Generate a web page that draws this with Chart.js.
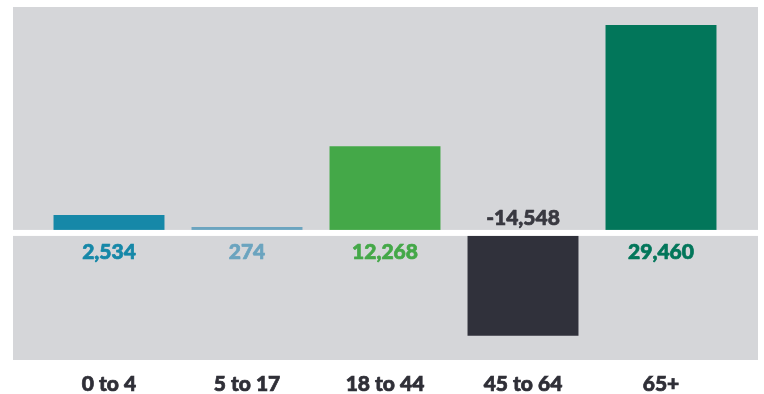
<!DOCTYPE html>
<html lang="en">
<head>
    <meta charset="UTF-8">
    <title>Change by age group</title>
    <style>
        body {
            margin: 0;
            background-color: #fff;
        }
        .wrap {
            width: 764px;
            height: 394px;
        }
    </style>
</head>
<body>
    <div class="wrap">
        <canvas id="ageChart" width="764" height="394"></canvas>
    </div>

    <script src="https://cdn.jsdelivr.net/npm/chart.js"></script>
    <script>
        // data
        const ageGroups = ['0 to 4', '5 to 17', '18 to 44', '45 to 64', '65+'];
        const changeValues = [2534, 274, 12268, -14548, 29460];
        const barColors = ['#1688a8', '#6ba4bf', '#44a848', '#30313b', '#02765a'];
        const labelColors = ['#1688a8', '#6ba4bf', '#44a848', '#393941', '#02765a'];

        const fontName = 'Lato, "Noto Sans", sans-serif';

        // gray panel behind the bars (a bit wider than the bar area)
        const panelPlugin = {
            id: 'panel',
            beforeDraw(chart) {
                const { ctx, chartArea } = chart;
                ctx.save();
                ctx.fillStyle = '#d5d6d9';
                ctx.fillRect(chartArea.left - 27, chartArea.top, chartArea.width + 55, chartArea.height);
                ctx.restore();
            }
        };

        // white zero line plus value labels
        const zeroPlugin = {
            id: 'zeroLine',
            afterDatasetsDraw(chart) {
                const { ctx, chartArea } = chart;
                const y0 = chart.scales.y.getPixelForValue(0);
                ctx.save();
                ctx.fillStyle = '#ffffff';
                ctx.fillRect(chartArea.left - 27, y0 - 3, chartArea.width + 55, 6);

                const meta = chart.getDatasetMeta(0);
                ctx.font = '900 21px ' + fontName;
                ctx.textAlign = 'center';
                ctx.textBaseline = 'alphabetic';
                ctx.lineWidth = 0.7;
                ctx.lineJoin = 'round';
                meta.data.forEach((bar, i) => {
                    const v = changeValues[i];
                    const txt = v.toLocaleString('en-US');
                    const y = v >= 0 ? y0 + 26 : y0 - 7.5;
                    ctx.fillStyle = labelColors[i];
                    ctx.strokeStyle = labelColors[i];
                    ctx.fillText(txt, bar.x, y);
                    ctx.strokeText(txt, bar.x, y);
                });
                ctx.restore();
            }
        };

        const ctx = document.getElementById('ageChart').getContext('2d');
        const ageChart = new Chart(ctx, {
            type: 'bar',
            data: {
                labels: ageGroups,
                datasets: [{
                    data: changeValues,
                    backgroundColor: barColors,
                    borderWidth: 0,
                    minBarLength: 6,
                    categoryPercentage: 1,
                    barPercentage: 0.804
                }]
            },
            options: {
                responsive: false,
                animation: false,
                layout: {
                    padding: { left: 40, right: 34, top: 7, bottom: 0 }
                },
                plugins: {
                    legend: { display: false },
                    tooltip: { enabled: false }
                },
                scales: {
                    y: {
                        display: false,
                        min: -18000,
                        max: 32000
                    },
                    x: {
                        grid: { display: false, drawTicks: false },
                        border: { display: false },
                        afterFit(scale) {
                            scale.height = 34;
                        },
                        ticks: {
                            padding: 11.4,
                            color: '#2f2f37',
                            textStrokeColor: '#2f2f37',
                            textStrokeWidth: 0.7,
                            font: { family: fontName, size: 21, weight: '900' }
                        }
                    }
                }
            },
            plugins: [panelPlugin, zeroPlugin]
        });
    </script>
</body>
</html>
